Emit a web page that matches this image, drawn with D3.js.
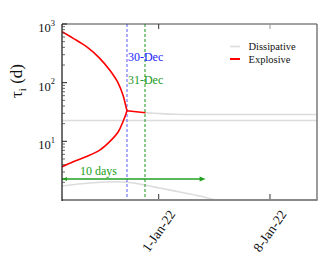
<!DOCTYPE html>
<html><head><meta charset="utf-8">
<script src="https://cdn.jsdelivr.net/npm/d3@7"></script>
<style>body{margin:0;background:#fff}svg{display:block;font-family:"Liberation Serif","Times New Roman",serif}</style>
</head><body><svg id="c" width="330" height="255"></svg>
<script>
// ---- data ----
const xDomain = ["2021-12-25T22:00", "2022-01-10T23:00"];
const xTickDates = ["2022-01-01T00:00", "2022-01-08T00:00"];
const xTickLabels = ["1-Jan-22", "8-Jan-22"];
const yTickValues = [10, 100, 1000];
const yTickExps = ["1", "2", "3"];

const explosiveUpperDates = ["2021-12-25T22:00","2021-12-26T15:00","2021-12-27T11:00","2021-12-28T07:00","2021-12-28T22:00","2021-12-29T11:00","2021-12-29T18:00","2021-12-29T22:00","2021-12-30T00:00"];
const explosiveUpperTau   = [740, 570, 410, 260, 164, 97.5, 61.6, 41.6, 33.3];
const explosiveLowerDates = ["2021-12-25T22:00","2021-12-26T15:00","2021-12-27T11:00","2021-12-28T07:00","2021-12-28T22:00","2021-12-29T11:00","2021-12-29T18:00","2021-12-29T22:00","2021-12-30T00:00"];
const explosiveLowerTau   = [3.7, 4.5, 5.5, 7.1, 9.9, 14.6, 21.6, 28.1, 33.3];
const explosiveTailDates  = ["2021-12-30T00:00","2021-12-31T04:00"];
const explosiveTailTau    = [33.3, 30.8];

const dissipUpperDates = ["2021-12-31T04:00","2022-01-01T00:00","2022-01-02T00:00","2022-01-03T00:00","2022-01-10T23:00"];
const dissipUpperTau   = [30.8, 29.8, 28.9, 28.7, 28.7];
const dissipFlatDates  = ["2021-12-25T22:00","2022-01-10T23:00"];
const dissipFlatTau    = [22.6, 22.6];
const dissipLowerDates = ["2021-12-25T22:00","2021-12-27T16:00","2021-12-29T06:00","2021-12-30T04:00","2021-12-31T03:00","2022-01-01T01:30","2022-01-02T07:40","2022-01-03T13:45","2022-01-04T13:50","2022-01-05T11:00"];
const dissipLowerTau   = [1.73, 1.95, 2.05, 1.99, 1.80, 1.60, 1.37, 1.17, 1.0, 0.9];

const markerDates  = ["2021-12-30T00:00", "2021-12-31T04:00"];
const markerLabels = ["30-Dec", "31-Dec"];
const markerLabelTau = [230, 95];
const arrowDates = ["2021-12-25T22:00", "2022-01-03T22:50"];
const arrowTau = 2.28;
const arrowLabel = "10 days";
const arrowLabelTau = 2.7;
const legendLabels = ["Dissipative", "Explosive"];

// ---- chart ----
const P = d3.timeParse("%Y-%m-%dT%H:%M");
const svg = d3.select("#c");
const L = 62, R = 317, T = 24, B = 200;
const x = d3.scaleTime().domain(xDomain.map(P)).range([L, R]);
const y = d3.scaleLog().domain([1, 1000]).range([B, T]);

svg.append("clipPath").attr("id","clip").append("rect")
  .attr("x", L).attr("y", T).attr("width", R-L).attr("height", B-T);
const g = svg.append("g").attr("clip-path","url(#clip)");

const line = d3.line().x(d => x(d[0])).y(d => y(d[1])).curve(d3.curveCatmullRom);
const zip = (ds, vs) => ds.map((d,i) => [P(d), vs[i]]);

const gray = "#dcdcdc", red = "#ff0000";
[[dissipFlatDates, dissipFlatTau],[dissipUpperDates, dissipUpperTau],[dissipLowerDates, dissipLowerTau]].forEach(([ds,vs]) => {
  g.append("path").attr("d", line(zip(ds,vs))).attr("fill","none").attr("stroke",gray).attr("stroke-width",1.6);
});

// marker dashed lines (spread over two pixels, like the anti-aliased reference)
const mColors = ["#6a6aff", "#2ca02c"];
markerDates.forEach((d,i) => {
  const xm = Math.round(x(P(d)));
  g.append("line").attr("x1", xm).attr("x2", xm).attr("y1", T).attr("y2", B)
   .attr("stroke", mColors[i]).attr("stroke-width", 1.1).attr("stroke-dasharray","3,2");
});
const lColors = ["#2222ff", "#229922"];
markerDates.forEach((d,i) => {
  svg.append("text").attr("x", x(P(markerDates[0])) + 1).attr("y", y(markerLabelTau[i]))
    .attr("font-size", 12).attr("fill", lColors[i]).text(markerLabels[i]);
});

[[explosiveUpperDates, explosiveUpperTau],[explosiveLowerDates, explosiveLowerTau],[explosiveTailDates, explosiveTailTau]].forEach(([ds,vs]) => {
  g.append("path").attr("d", line(zip(ds,vs))).attr("fill","none").attr("stroke",red).attr("stroke-width",1.6);
});

// arrow
const green = "#22a022";
const ax1 = x(P(arrowDates[0])), ax2 = x(P(arrowDates[1])), ay = y(arrowTau);
svg.append("line").attr("x1", ax1).attr("x2", ax2 - 4).attr("y1", ay).attr("y2", ay).attr("stroke", green).attr("stroke-width", 1.3);
svg.append("path").attr("d", `M${ax2},${ay} L${ax2-6},${ay-2.6} L${ax2-6},${ay+2.6} Z`).attr("fill", green);
svg.append("path").attr("d", `M${ax1+0.5},${ay} L${ax1+5},${ay-2} L${ax1+5},${ay+2} Z`).attr("fill", green);
svg.append("text").attr("x", 80).attr("y", y(arrowLabelTau)).attr("font-size", 12).attr("fill", green).text(arrowLabel);

// frame
svg.append("line").attr("x1", L).attr("x2", R).attr("y1", T).attr("y2", T).attr("stroke", "#444").attr("stroke-width", 1);
svg.append("line").attr("x1", R).attr("x2", R).attr("y1", T).attr("y2", B).attr("stroke", "#666").attr("stroke-width", 1.3);
svg.append("line").attr("x1", L).attr("x2", R+0.6).attr("y1", B).attr("y2", B).attr("stroke", "#888").attr("stroke-width", 2);
svg.append("line").attr("x1", L).attr("x2", L).attr("y1", T).attr("y2", B+1).attr("stroke", "#111").attr("stroke-width", 1.2);

// x ticks (inside, top and bottom)
xTickDates.forEach((d,i) => {
  const xx = x(P(d));
  svg.append("line").attr("x1", xx).attr("x2", xx).attr("y1", B-1).attr("y2", B-6).attr("stroke", "#333");
  svg.append("line").attr("x1", xx).attr("x2", xx).attr("y1", T).attr("y2", T+5).attr("stroke", i ? "#999" : "#333");
  svg.append("text").attr("transform", `translate(${xx},231) rotate(-55)`)
    .attr("text-anchor","middle").attr("dominant-baseline","central")
    .attr("font-size", 13.5).attr("fill", "#111").text(xTickLabels[i]);
});

// y ticks (inside)
const minor = [];
[1, 10, 100].forEach(b => { for (let k = 2; k <= 9; k++) minor.push(b*k); });
minor.forEach(v => {
  svg.append("line").attr("x1", L).attr("x2", L+3).attr("y1", y(v)).attr("y2", y(v)).attr("stroke", "#444").attr("stroke-width", 0.8);
});
yTickValues.forEach((v,i) => {
  svg.append("line").attr("x1", L).attr("x2", L+5).attr("y1", y(v)).attr("y2", y(v)).attr("stroke", "#222");
  const t = svg.append("text").attr("x", 55).attr("y", y(v) + 8).attr("text-anchor","end").attr("font-size", 12.5).attr("fill","#111");
  t.append("tspan").text("10");
  t.append("tspan").attr("dy", -6.5).attr("font-size", 8.5).text(yTickExps[i]);
});

// y label
const yl = svg.append("text").attr("transform", "translate(22,81) rotate(-90)").attr("text-anchor","middle")
  .attr("font-size", 17).attr("fill","#111");
yl.append("tspan").text("τ");
yl.append("tspan").attr("dy", 4).attr("font-size", 11).text("i");
yl.append("tspan").attr("dy", -4).text(" (d)");

// legend
const lg = [[gray, 1.6], [red, 2]];
legendLabels.forEach((lab, i) => {
  const yy = 46.5 + i * 12.5;
  svg.append("line").attr("x1", 230).attr("x2", 240).attr("y1", yy).attr("y2", yy).attr("stroke", lg[i][0]).attr("stroke-width", lg[i][1]);
  svg.append("text").attr("x", 248.5).attr("y", yy + 3.5).attr("font-size", 10.5).attr("fill","#111").text(lab);
});
</script></body></html>
